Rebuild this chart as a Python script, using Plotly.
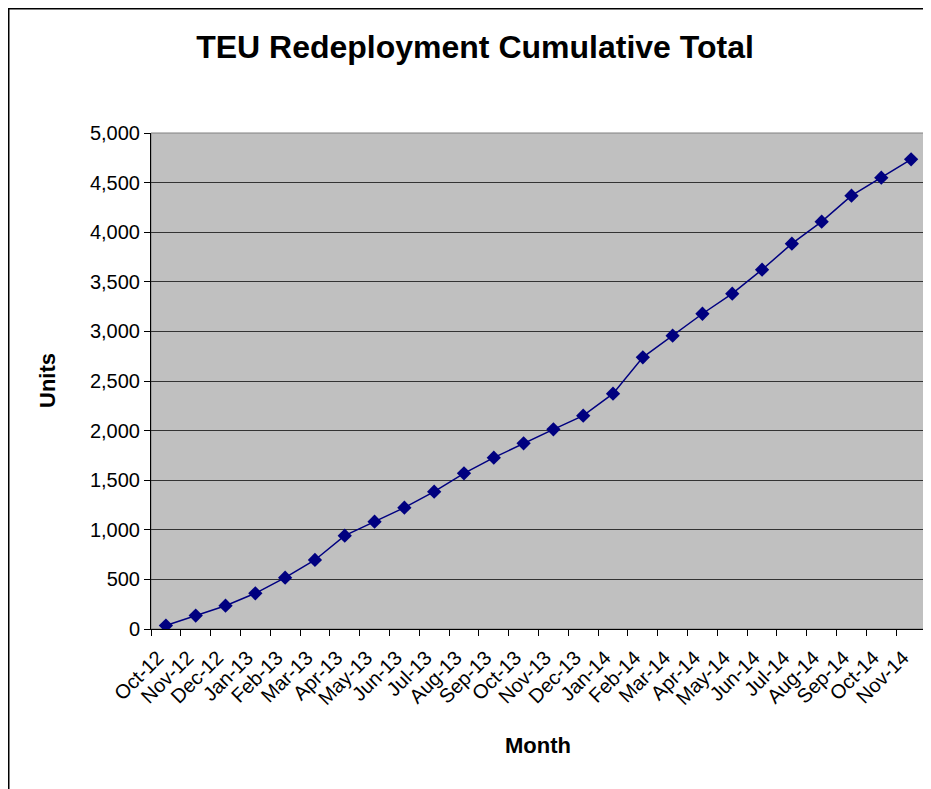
import plotly.graph_objects as go

months = ["Oct-12", "Nov-12", "Dec-12", "Jan-13", "Feb-13", "Mar-13", "Apr-13", "May-13",
          "Jun-13", "Jul-13", "Aug-13", "Sep-13", "Oct-13", "Nov-13", "Dec-13", "Jan-14",
          "Feb-14", "Mar-14", "Apr-14", "May-14", "Jun-14", "Jul-14", "Aug-14", "Sep-14",
          "Oct-14", "Nov-14"]
units = [35, 135, 235, 360, 517, 696, 941, 1082, 1223, 1384, 1569, 1727, 1872, 2013,
         2150, 2372, 2739, 2957, 3178, 3380, 3622, 3884, 4106, 4368, 4550, 4735]
y_ticks = [0, 500, 1000, 1500, 2000, 2500, 3000, 3500, 4000, 4500, 5000]

FONT = "Liberation Sans, Arial, sans-serif"

# page has an 8px body margin; figure coordinates are offset accordingly
OFF = 8
W, H = 931 - OFF, 789 - OFF
L, T = 151 - OFF, 133 - OFF
R = W - (926 - OFF)
B = H - (629 - OFF)
pw, ph = W - L - R, H - T - B

fig = go.Figure()
fig.add_trace(go.Scatter(
    x=months, y=units, mode="lines+markers",
    line=dict(color="#000080", width=1.5),
    marker=dict(symbol="diamond", size=11, color="#000080"),
    showlegend=False,
))

fig.update_layout(
    width=W, height=H,
    margin=dict(l=L, r=R, t=T, b=B),
    paper_bgcolor="white",
    plot_bgcolor="#C0C0C0",
    font=dict(family=FONT, size=20, color="black"),
    title=dict(text="<b>TEU Redeployment Cumulative Total</b>",
               x=(475 - OFF) / W, xanchor="center", y=1 - (47 - OFF) / H, yanchor="middle",
               font=dict(size=32, family=FONT, color="black")),
    xaxis=dict(
        type="category", tickangle=-45, tickson="boundaries",
        ticks="outside", ticklen=6, tickcolor="black",
        showline=True, linecolor="black", linewidth=1,
        showgrid=False, zeroline=False,
        tickfont=dict(size=20),
        ticklabelstandoff=8, ticklabelshift=-8,
        range=[-0.5, len(months) - 0.5],
    ),
    yaxis=dict(
        range=[0, 5000], tickvals=y_ticks,
        tickformat=",d",
        ticks="outside", ticklen=6, tickcolor="black",
        showline=True, linecolor="black", linewidth=1,
        showgrid=True, gridcolor="#333333", gridwidth=1.2,
        zeroline=False,
        tickfont=dict(size=20),
    ),
    annotations=[
        dict(text="<b>Month</b>", xref="paper", yref="paper",
             x=(538 - OFF - L) / pw, y=-(745 - 629) / ph,
             xanchor="center", yanchor="middle", showarrow=False,
             font=dict(size=22, family=FONT)),
        dict(text="<b>Units</b>", xref="paper", yref="paper",
             x=-(151 - 47) / pw, y=0.5, textangle=-90,
             xanchor="center", yanchor="middle", showarrow=False,
             font=dict(size=22, family=FONT)),
    ],
)

# light border on top/right of plot area
fig.add_shape(type="rect", xref="paper", yref="paper", x0=0, x1=1, y0=0, y1=1,
              line=dict(color="#808080", width=1), layer="below")
# outer chart frame
fig.add_shape(type="rect", xref="paper", yref="paper",
              x0=(0.75 - L) / pw, x1=(W + 20 - L) / pw,
              y0=-(H + 20 - (T + ph)) / ph, y1=(T + ph - 0.75) / ph,
              line=dict(color="black", width=1.5))

fig.write_html("out.html")
